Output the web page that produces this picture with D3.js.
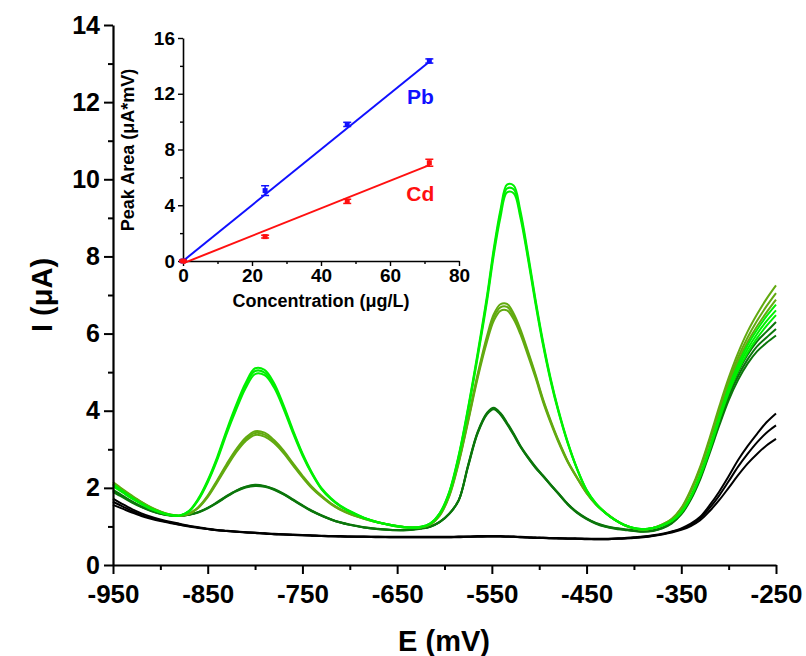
<!DOCTYPE html>
<html>
<head>
<meta charset="utf-8">
<script src="https://cdn.jsdelivr.net/npm/d3@7"></script>
<style>
  html, body { margin: 0; padding: 0; background: #fff; }
  svg { display: block; }
  text { font-family: "Liberation Sans", Arial, sans-serif; font-weight: bold; fill: #000; }
</style>
</head>
<body>
<svg id="chart" width="806" height="656"></svg>
<script>
// Potential grid (mV) shared by all voltammograms
const potential = [-950,-940,-930,-920,-910,-900,-890,-880,-870,-860,-850,-840,-830,-820,-810,-800,-790,-780,-770,-760,-750,-740,-730,-720,-710,-700,-685,-670,-655,-640,-625,-615,-605,-595,-585,-575,-565,-555,-548,-541,-534,-527,-520,-512,-504,-496,-488,-480,-470,-460,-450,-440,-430,-420,-410,-400,-390,-380,-370,-360,-350,-340,-330,-320,-310,-300,-290,-280,-270,-260,-250];

// Current (µA) – blank runs
const blank1 = [1.72,1.58,1.45,1.34,1.25,1.18,1.12,1.07,1.02,0.98,0.94,0.91,0.89,0.87,0.85,0.84,0.82,0.81,0.80,0.79,0.78,0.77,0.76,0.75,0.75,0.74,0.74,0.73,0.73,0.73,0.73,0.73,0.73,0.73,0.74,0.74,0.75,0.75,0.75,0.75,0.74,0.74,0.73,0.72,0.71,0.71,0.70,0.70,0.69,0.69,0.68,0.68,0.68,0.69,0.70,0.72,0.74,0.77,0.81,0.87,0.95,1.07,1.25,1.55,1.90,2.30,2.72,3.08,3.40,3.70,3.93];
const blank2 = [1.64,1.52,1.40,1.30,1.22,1.16,1.10,1.05,1.01,0.97,0.93,0.90,0.88,0.86,0.85,0.83,0.82,0.80,0.79,0.78,0.77,0.76,0.75,0.75,0.74,0.74,0.73,0.73,0.72,0.72,0.72,0.72,0.72,0.72,0.73,0.73,0.74,0.74,0.74,0.74,0.74,0.73,0.72,0.71,0.71,0.70,0.70,0.69,0.69,0.68,0.68,0.67,0.67,0.68,0.69,0.71,0.73,0.76,0.80,0.86,0.93,1.04,1.21,1.48,1.80,2.17,2.55,2.88,3.18,3.43,3.62];
const blank3 = [1.56,1.46,1.36,1.27,1.20,1.14,1.09,1.04,1.00,0.96,0.93,0.90,0.88,0.86,0.84,0.83,0.81,0.80,0.79,0.78,0.77,0.76,0.75,0.74,0.74,0.73,0.73,0.72,0.72,0.72,0.72,0.72,0.72,0.72,0.72,0.73,0.73,0.74,0.74,0.74,0.73,0.73,0.72,0.71,0.70,0.70,0.69,0.69,0.68,0.68,0.67,0.67,0.67,0.68,0.69,0.70,0.72,0.75,0.79,0.84,0.91,1.01,1.16,1.40,1.68,2.00,2.33,2.63,2.88,3.10,3.27];

// Current (µA) – first standard addition
const add1a = [1.95,1.80,1.65,1.52,1.42,1.34,1.29,1.27,1.30,1.37,1.48,1.63,1.79,1.93,2.03,2.08,2.05,1.97,1.85,1.70,1.55,1.41,1.29,1.19,1.11,1.05,0.98,0.94,0.91,0.91,0.95,1.00,1.12,1.33,1.68,2.60,3.45,3.95,4.08,3.94,3.69,3.41,3.10,2.81,2.55,2.32,2.09,1.87,1.59,1.37,1.21,1.09,1.01,0.96,0.93,0.90,0.88,0.90,0.97,1.10,1.35,1.75,2.30,3.00,3.75,4.45,5.00,5.45,5.80,6.05,6.30];
const add1b = [1.92,1.78,1.64,1.51,1.41,1.33,1.29,1.27,1.30,1.37,1.48,1.62,1.78,1.92,2.02,2.06,2.04,1.96,1.84,1.69,1.54,1.40,1.28,1.18,1.10,1.04,0.97,0.93,0.91,0.91,0.95,1.00,1.12,1.33,1.68,2.58,3.43,3.93,4.06,3.92,3.67,3.39,3.08,2.79,2.53,2.31,2.08,1.86,1.58,1.36,1.20,1.08,1.00,0.95,0.92,0.89,0.87,0.89,0.96,1.09,1.33,1.72,2.26,2.95,3.68,4.36,4.90,5.33,5.67,5.90,6.12];
const add1c = [1.89,1.76,1.62,1.50,1.40,1.33,1.28,1.27,1.30,1.36,1.47,1.61,1.77,1.91,2.01,2.05,2.03,1.95,1.83,1.68,1.53,1.39,1.28,1.18,1.10,1.04,0.97,0.93,0.90,0.90,0.94,0.99,1.11,1.32,1.67,2.56,3.41,3.91,4.04,3.90,3.65,3.37,3.07,2.78,2.52,2.30,2.07,1.85,1.57,1.35,1.19,1.07,0.99,0.94,0.91,0.88,0.86,0.88,0.95,1.08,1.31,1.69,2.22,2.90,3.61,4.27,4.80,5.22,5.54,5.76,5.95];

// Current (µA) – second standard addition
const add2a = [2.15,1.97,1.80,1.64,1.50,1.39,1.31,1.28,1.33,1.50,1.80,2.20,2.62,3.00,3.30,3.47,3.43,3.24,2.97,2.64,2.32,2.03,1.80,1.60,1.45,1.34,1.21,1.11,1.03,0.98,0.98,1.06,1.30,1.82,2.70,3.80,4.95,5.95,6.50,6.76,6.77,6.52,6.12,5.55,4.95,4.30,3.75,3.25,2.70,2.27,1.88,1.58,1.36,1.18,1.04,0.95,0.92,0.96,1.05,1.20,1.48,1.95,2.55,3.30,4.10,4.85,5.50,6.05,6.50,6.90,7.25];
const add2b = [2.12,1.95,1.78,1.63,1.49,1.38,1.31,1.28,1.33,1.49,1.78,2.17,2.58,2.96,3.25,3.42,3.38,3.20,2.93,2.61,2.29,2.01,1.78,1.59,1.44,1.33,1.20,1.10,1.03,0.98,0.98,1.05,1.29,1.80,2.67,3.76,4.90,5.88,6.42,6.68,6.69,6.45,6.06,5.50,4.91,4.27,3.72,3.23,2.69,2.26,1.87,1.57,1.35,1.17,1.03,0.95,0.92,0.96,1.05,1.19,1.46,1.92,2.51,3.24,4.02,4.75,5.38,5.90,6.33,6.71,7.05];
const add2c = [2.09,1.93,1.77,1.62,1.48,1.38,1.30,1.28,1.32,1.48,1.76,2.14,2.54,2.92,3.21,3.37,3.33,3.16,2.90,2.58,2.27,1.99,1.77,1.58,1.43,1.32,1.20,1.10,1.02,0.97,0.97,1.05,1.28,1.78,2.64,3.72,4.84,5.80,6.33,6.59,6.60,6.37,5.99,5.44,4.86,4.23,3.69,3.20,2.67,2.25,1.86,1.56,1.35,1.17,1.03,0.95,0.91,0.95,1.04,1.18,1.45,1.90,2.48,3.20,3.96,4.67,5.28,5.78,6.19,6.55,6.88];

// Current (µA) – third standard addition
const add3a = [2.10,1.92,1.75,1.60,1.47,1.37,1.30,1.28,1.40,1.72,2.20,2.80,3.50,4.15,4.72,5.10,5.06,4.72,4.15,3.50,2.90,2.40,2.00,1.74,1.54,1.40,1.23,1.11,1.03,0.98,0.99,1.08,1.35,1.90,2.85,4.10,5.50,7.00,8.20,9.20,9.86,9.84,9.20,8.10,6.90,5.80,4.85,4.05,3.20,2.50,1.95,1.60,1.35,1.17,1.04,0.96,0.93,0.96,1.03,1.15,1.38,1.78,2.35,3.05,3.85,4.60,5.20,5.70,6.10,6.45,6.75];
const add3b = [2.07,1.90,1.73,1.59,1.46,1.36,1.30,1.28,1.39,1.70,2.17,2.76,3.45,4.09,4.66,5.03,4.99,4.66,4.10,3.46,2.87,2.38,1.98,1.72,1.53,1.39,1.22,1.10,1.03,0.98,0.99,1.08,1.34,1.88,2.82,4.06,5.44,6.93,8.12,9.11,9.76,9.74,9.11,8.02,6.84,5.75,4.81,4.02,3.18,2.49,1.94,1.59,1.35,1.17,1.04,0.96,0.93,0.96,1.03,1.15,1.37,1.77,2.33,3.02,3.80,4.53,5.12,5.60,5.99,6.32,6.60];
const add3c = [2.04,1.88,1.72,1.58,1.45,1.36,1.29,1.28,1.38,1.68,2.14,2.72,3.40,4.02,4.58,4.95,4.92,4.60,4.05,3.42,2.84,2.36,1.97,1.71,1.52,1.38,1.22,1.10,1.02,0.97,0.98,1.07,1.33,1.86,2.79,4.01,5.38,6.85,8.03,9.00,9.66,9.64,9.02,7.95,6.78,5.70,4.77,3.99,3.16,2.48,1.93,1.58,1.34,1.16,1.03,0.95,0.92,0.95,1.02,1.14,1.36,1.75,2.30,2.98,3.75,4.46,5.04,5.50,5.88,6.20,6.48];

// Axis ticks of the voltammogram
const xTicks = [-950,-850,-750,-650,-550,-450,-350,-250];
const yTicks = [0,2,4,6,8,10,12,14];

// Calibration (inset): concentration (µg/L), mean peak area (µA*mV) and error
const conc = [0, 23.8, 47.6, 71.4];
const pbArea = [0.0, 5.05, 9.8, 14.35];
const pbErr = [0.08, 0.35, 0.15, 0.15];
const cdArea = [0.0, 1.75, 4.28, 7.05];
const cdErr = [0.06, 0.1, 0.15, 0.25];
// Linear fits, evaluated at the ends of the concentration range
const fitX = [0, 71.4];
const pbFit = [0.0, 14.3];
const cdFit = [-0.17, 6.88];
const insetXTicks = [0, 20, 40, 60, 80];
const insetYTicks = [0, 4, 8, 12, 16];

const series = [
  { values: blank1, color: "#000000" },
  { values: blank2, color: "#000000" },
  { values: blank3, color: "#000000" },
  { values: add1a, color: "#0b760b" },
  { values: add1b, color: "#0b760b" },
  { values: add1c, color: "#0b760b" },
  { values: add2a, color: "#62aa10" },
  { values: add2b, color: "#62aa10" },
  { values: add2c, color: "#62aa10" },
  { values: add3a, color: "#00f000" },
  { values: add3b, color: "#00f000" },
  { values: add3c, color: "#00f000" }
];

const svg = d3.select("#chart");

// ---------- main voltammogram ----------
const x = d3.scaleLinear().domain([-950, -250]).range([113, 776]);
const y = d3.scaleLinear().domain([0, 14]).range([565, 25]);

const line = d3.line()
  .x((d, i) => x(potential[i]))
  .y(d => y(d))
  .curve(d3.curveCatmullRom.alpha(0.5));

const gLines = svg.append("g");
series.forEach(s => {
  gLines.append("path")
    .attr("d", line(s.values))
    .attr("fill", "none")
    .attr("stroke", s.color)
    .attr("stroke-width", 2);
});

// x axis with minor ticks
const xMinor = svg.append("g").attr("transform", `translate(0,${y(0)})`);
xMinor.call(d3.axisBottom(x).tickValues(d3.range(-900, -250, 100)).tickSize(5).tickFormat(""));
xMinor.select(".domain").remove();
xMinor.selectAll(".tick line").attr("stroke-width", 2);
const xMajor = svg.append("g").attr("transform", `translate(0,${y(0)})`);
xMajor.call(d3.axisBottom(x).tickValues(xTicks).tickSize(9).tickSizeOuter(0).tickPadding(10).tickFormat(d3.format("d")));
xMajor.select(".domain").attr("stroke-width", 2.2);
xMajor.selectAll(".tick line").attr("stroke-width", 2);
xMajor.selectAll(".tick text").attr("font-size", 26).attr("font-family", null).attr("dy", "0.72em")
  .text(d => String(d).replace("\u2212", "-"));

// y axis with minor ticks
const yMinor = svg.append("g").attr("transform", `translate(${x(-950)},0)`);
yMinor.call(d3.axisLeft(y).tickValues(d3.range(1, 14, 2)).tickSize(5).tickFormat(""));
yMinor.selectAll(".tick line").attr("stroke-width", 2);
yMinor.select(".domain").remove();
const yMajor = svg.append("g").attr("transform", `translate(${x(-950)},0)`);
yMajor.call(d3.axisLeft(y).tickValues(yTicks).tickSize(9).tickSizeOuter(0).tickPadding(4));
yMajor.select(".domain").attr("stroke-width", 2.2);
yMajor.selectAll(".tick line").attr("stroke-width", 2);
yMajor.selectAll(".tick text").attr("font-size", 25).attr("font-family", null).attr("dy", "0.32em");

svg.selectAll(".domain").attr("stroke", "#000");
svg.selectAll(".tick line").attr("stroke", "#000");
svg.selectAll(".tick text").attr("fill", "#000");

svg.append("text")
  .attr("x", 444).attr("y", 651)
  .attr("text-anchor", "middle")
  .attr("font-size", 29)
  .text("E (mV)");

svg.append("text")
  .attr("transform", "translate(52,295) rotate(-90)")
  .attr("text-anchor", "middle")
  .attr("font-size", 29)
  .text("I (\u03BCA)");

// ---------- inset: calibration plot ----------
const ix = d3.scaleLinear().domain([0, 80]).range([183, 459]);
const iy = d3.scaleLinear().domain([0, 16]).range([261, 38]);
const inset = svg.append("g");

const ixMinor = inset.append("g").attr("transform", `translate(0,${iy(0)})`);
ixMinor.call(d3.axisBottom(ix).tickValues([10, 30, 50, 70]).tickSize(3).tickFormat(""));
ixMinor.select(".domain").remove();
const ixMajor = inset.append("g").attr("transform", `translate(0,${iy(0)})`);
ixMajor.call(d3.axisBottom(ix).tickValues(insetXTicks).tickSize(5).tickSizeOuter(0).tickPadding(3));
ixMajor.selectAll(".tick text").attr("font-size", 19).attr("font-family", null);

const iyMinor = inset.append("g").attr("transform", `translate(${ix(0)},0)`);
iyMinor.call(d3.axisLeft(iy).tickValues([2, 6, 10, 14]).tickSize(3).tickFormat(""));
iyMinor.select(".domain").remove();
const iyMajor = inset.append("g").attr("transform", `translate(${ix(0)},0)`);
iyMajor.call(d3.axisLeft(iy).tickValues(insetYTicks).tickSize(5).tickSizeOuter(0).tickPadding(3));
iyMajor.selectAll(".tick text").attr("font-size", 19).attr("font-family", null);

inset.selectAll(".domain").attr("stroke", "#000").attr("stroke-width", 1.6);
inset.selectAll(".tick line").attr("stroke", "#000").attr("stroke-width", 1.4);
inset.selectAll(".tick text").attr("fill", "#000");

inset.append("text")
  .attr("x", 321).attr("y", 307)
  .attr("text-anchor", "middle")
  .attr("font-size", 18)
  .text("Concentration (\u03BCg/L)");
inset.append("text")
  .attr("transform", "translate(134,150) rotate(-90)")
  .attr("text-anchor", "middle")
  .attr("font-size", 18)
  .text("Peak Area (\u03BCA*mV)");

function drawCalibration(vals, errs, fit, color, label, lx, ly) {
  inset.append("line")
    .attr("x1", ix(fitX[0])).attr("y1", iy(fit[0]))
    .attr("x2", ix(fitX[1])).attr("y2", iy(fit[1]))
    .attr("stroke", color).attr("stroke-width", 2);
  const g = inset.append("g");
  conc.forEach((c, i) => {
    const cx = ix(c);
    g.append("line").attr("x1", cx).attr("x2", cx)
      .attr("y1", iy(vals[i] - errs[i])).attr("y2", iy(vals[i] + errs[i]))
      .attr("stroke", color).attr("stroke-width", 1.5);
    [vals[i] - errs[i], vals[i] + errs[i]].forEach(v => {
      g.append("line").attr("x1", cx - 4).attr("x2", cx + 4)
        .attr("y1", iy(v)).attr("y2", iy(v))
        .attr("stroke", color).attr("stroke-width", 1.5);
    });
    g.append("rect").attr("x", cx - 2.5).attr("y", iy(vals[i]) - 2.5)
      .attr("width", 5).attr("height", 5).attr("fill", color);
  });
  inset.append("text")
    .attr("x", lx).attr("y", ly)
    .attr("text-anchor", "middle")
    .attr("font-size", 21)
    .style("fill", color)
    .text(label);
}
drawCalibration(pbArea, pbErr, pbFit, "#1010ff", "Pb", ix(71.4) - 9, iy(11.3));
drawCalibration(cdArea, cdErr, cdFit, "#ff1010", "Cd", ix(71.4) - 9, iy(4.3));
</script>
</body>
</html>
